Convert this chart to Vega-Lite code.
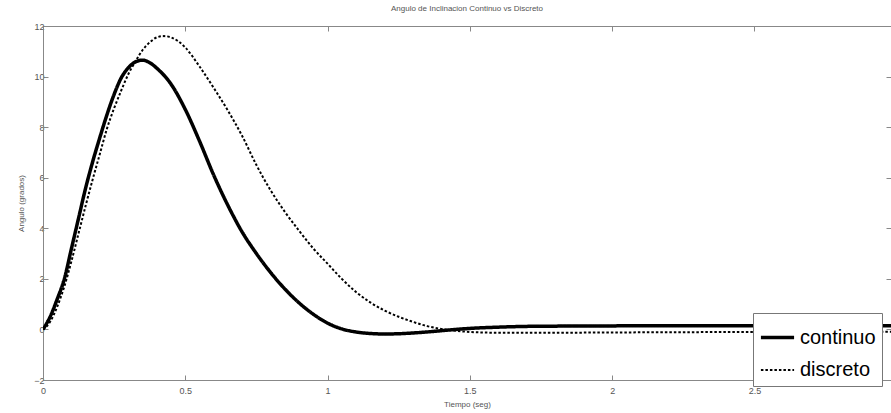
{
  "$schema": "https://vega.github.io/schema/vega-lite/v6.json",
  "width": 848,
  "height": 354,
  "autosize": {"type": "none"},
  "padding": {"left": 43, "top": 26, "right": 0, "bottom": 33},
  "background": "white",
  "title": {"text": "Angulo de Inclinacion Continuo vs Discreto", "fontSize": 8, "fontWeight": "normal", "color": "#555", "offset": 9, "font": "Liberation Sans"},
  "config": {
    "view": {"stroke": "#888", "strokeWidth": 1},
    "axis": {"grid": false, "labelFontSize": 9, "labelColor": "#555", "labelFont": "Liberation Sans", "domainColor": "#888", "tickColor": "#888", "tickSize": -5, "titleFontSize": 8, "titleFontWeight": "normal", "titleColor": "#555", "titleFont": "Liberation Sans"}
  },
  "data": {"values": [
    {"serie": "continuo", "t": 0, "v": 0},
    {"serie": "continuo", "t": 0.025, "v": 0.5},
    {"serie": "continuo", "t": 0.05, "v": 1.2},
    {"serie": "continuo", "t": 0.075, "v": 2.0},
    {"serie": "continuo", "t": 0.1, "v": 3.2},
    {"serie": "continuo", "t": 0.125, "v": 4.4},
    {"serie": "continuo", "t": 0.15, "v": 5.6},
    {"serie": "continuo", "t": 0.175, "v": 6.65},
    {"serie": "continuo", "t": 0.2, "v": 7.6},
    {"serie": "continuo", "t": 0.225, "v": 8.5},
    {"serie": "continuo", "t": 0.25, "v": 9.3},
    {"serie": "continuo", "t": 0.275, "v": 9.95},
    {"serie": "continuo", "t": 0.3, "v": 10.35},
    {"serie": "continuo", "t": 0.325, "v": 10.58},
    {"serie": "continuo", "t": 0.35, "v": 10.65},
    {"serie": "continuo", "t": 0.375, "v": 10.55},
    {"serie": "continuo", "t": 0.4, "v": 10.33},
    {"serie": "continuo", "t": 0.45, "v": 9.7},
    {"serie": "continuo", "t": 0.5, "v": 8.7},
    {"serie": "continuo", "t": 0.55, "v": 7.45},
    {"serie": "continuo", "t": 0.6, "v": 6.1},
    {"serie": "continuo", "t": 0.65, "v": 4.9},
    {"serie": "continuo", "t": 0.7, "v": 3.85},
    {"serie": "continuo", "t": 0.75, "v": 3.0},
    {"serie": "continuo", "t": 0.8, "v": 2.25},
    {"serie": "continuo", "t": 0.85, "v": 1.6},
    {"serie": "continuo", "t": 0.9, "v": 1.05},
    {"serie": "continuo", "t": 0.95, "v": 0.6},
    {"serie": "continuo", "t": 1.0, "v": 0.25},
    {"serie": "continuo", "t": 1.05, "v": 0.02},
    {"serie": "continuo", "t": 1.1, "v": -0.1},
    {"serie": "continuo", "t": 1.15, "v": -0.16},
    {"serie": "continuo", "t": 1.2, "v": -0.18},
    {"serie": "continuo", "t": 1.25, "v": -0.17},
    {"serie": "continuo", "t": 1.3, "v": -0.14},
    {"serie": "continuo", "t": 1.35, "v": -0.1},
    {"serie": "continuo", "t": 1.4, "v": -0.05},
    {"serie": "continuo", "t": 1.45, "v": 0.0},
    {"serie": "continuo", "t": 1.5, "v": 0.04},
    {"serie": "continuo", "t": 1.6, "v": 0.09},
    {"serie": "continuo", "t": 1.7, "v": 0.12},
    {"serie": "continuo", "t": 1.8, "v": 0.13},
    {"serie": "continuo", "t": 2.0, "v": 0.14},
    {"serie": "continuo", "t": 2.5, "v": 0.15},
    {"serie": "continuo", "t": 3.0, "v": 0.15},
    {"serie": "discreto", "t": 0, "v": 0},
    {"serie": "discreto", "t": 0.025, "v": 0.3},
    {"serie": "discreto", "t": 0.05, "v": 0.9},
    {"serie": "discreto", "t": 0.075, "v": 1.7},
    {"serie": "discreto", "t": 0.1, "v": 2.7},
    {"serie": "discreto", "t": 0.125, "v": 3.8},
    {"serie": "discreto", "t": 0.15, "v": 4.9},
    {"serie": "discreto", "t": 0.175, "v": 5.95},
    {"serie": "discreto", "t": 0.2, "v": 6.95},
    {"serie": "discreto", "t": 0.225, "v": 7.95},
    {"serie": "discreto", "t": 0.25, "v": 8.75},
    {"serie": "discreto", "t": 0.275, "v": 9.45},
    {"serie": "discreto", "t": 0.3, "v": 10.1},
    {"serie": "discreto", "t": 0.325, "v": 10.6},
    {"serie": "discreto", "t": 0.35, "v": 11.05},
    {"serie": "discreto", "t": 0.375, "v": 11.35},
    {"serie": "discreto", "t": 0.4, "v": 11.55},
    {"serie": "discreto", "t": 0.425, "v": 11.6},
    {"serie": "discreto", "t": 0.45, "v": 11.55},
    {"serie": "discreto", "t": 0.475, "v": 11.4},
    {"serie": "discreto", "t": 0.5, "v": 11.15},
    {"serie": "discreto", "t": 0.55, "v": 10.4},
    {"serie": "discreto", "t": 0.6, "v": 9.55},
    {"serie": "discreto", "t": 0.65, "v": 8.65},
    {"serie": "discreto", "t": 0.7, "v": 7.65},
    {"serie": "discreto", "t": 0.75, "v": 6.5},
    {"serie": "discreto", "t": 0.8, "v": 5.5},
    {"serie": "discreto", "t": 0.85, "v": 4.65},
    {"serie": "discreto", "t": 0.9, "v": 3.9},
    {"serie": "discreto", "t": 0.95, "v": 3.2},
    {"serie": "discreto", "t": 1.0, "v": 2.6},
    {"serie": "discreto", "t": 1.05, "v": 2.0},
    {"serie": "discreto", "t": 1.1, "v": 1.48},
    {"serie": "discreto", "t": 1.15, "v": 1.07},
    {"serie": "discreto", "t": 1.2, "v": 0.75},
    {"serie": "discreto", "t": 1.25, "v": 0.5},
    {"serie": "discreto", "t": 1.3, "v": 0.3},
    {"serie": "discreto", "t": 1.35, "v": 0.13},
    {"serie": "discreto", "t": 1.4, "v": 0.02},
    {"serie": "discreto", "t": 1.45, "v": -0.05},
    {"serie": "discreto", "t": 1.5, "v": -0.1},
    {"serie": "discreto", "t": 1.6, "v": -0.13},
    {"serie": "discreto", "t": 1.8, "v": -0.13},
    {"serie": "discreto", "t": 2.0, "v": -0.12},
    {"serie": "discreto", "t": 2.5, "v": -0.1},
    {"serie": "discreto", "t": 3.0, "v": -0.09}
  ]},
  "layer": [
    {
      "mark": {"type": "line", "color": "black", "clip": true, "interpolate": "monotone"},
      "encoding": {
        "x": {"field": "t", "type": "quantitative", "scale": {"domain": [0, 2.98], "nice": false, "zero": false},
              "axis": {"values": [0, 0.5, 1, 1.5, 2, 2.5], "format": "~g", "title": "Tiempo (seg)", "labelPadding": 11, "titlePadding": 5, "labelFlush": false}},
        "y": {"field": "v", "type": "quantitative", "scale": {"domain": [-2, 12], "nice": false},
              "axis": {"values": [-2, 0, 2, 4, 6, 8, 10, 12], "title": "Angulo (grados)", "labelPadding": 4, "titlePadding": 8, "labelFlush": false}},
        "strokeDash": {"field": "serie", "type": "nominal", "scale": {"domain": ["continuo", "discreto"], "range": [[1, 0], [2.5, 2]]},
                       "legend": {"title": null, "orient": "none", "legendX": 710, "legendY": 287, "symbolType": "stroke", "symbolSize": 1100, "symbolStrokeColor": "black", "labelFontSize": 20, "labelFont": "Liberation Sans", "labelColor": "black", "strokeColor": "#777", "fillColor": "white", "padding": 6, "rowPadding": 4, "labelOffset": 4, "symbolOffset": 0}},
        "strokeWidth": {"field": "serie", "type": "nominal", "scale": {"domain": ["continuo", "discreto"], "range": [3.5, 2]},
                        "legend": {"title": null, "orient": "none", "legendX": 710, "legendY": 287, "symbolType": "stroke", "symbolSize": 1100, "symbolStrokeColor": "black", "labelFontSize": 20, "labelFont": "Liberation Sans", "labelColor": "black", "strokeColor": "#777", "fillColor": "white", "padding": 6, "rowPadding": 4, "labelOffset": 4, "symbolOffset": 0}}
      }
    },
    {
      "mark": {"type": "line", "opacity": 0},
      "encoding": {
        "x": {"field": "t", "type": "quantitative", "axis": {"orient": "top", "values": [0, 0.5, 1, 1.5, 2, 2.5], "labels": false, "title": null, "domain": false}},
        "y": {"field": "v", "type": "quantitative", "axis": {"orient": "right", "values": [-2, 0, 2, 4, 6, 8, 10, 12], "labels": false, "title": null, "domain": false}},
        "detail": {"field": "serie"}
      }
    }
  ],
  "resolve": {"axis": {"x": "independent", "y": "independent"}}
}
